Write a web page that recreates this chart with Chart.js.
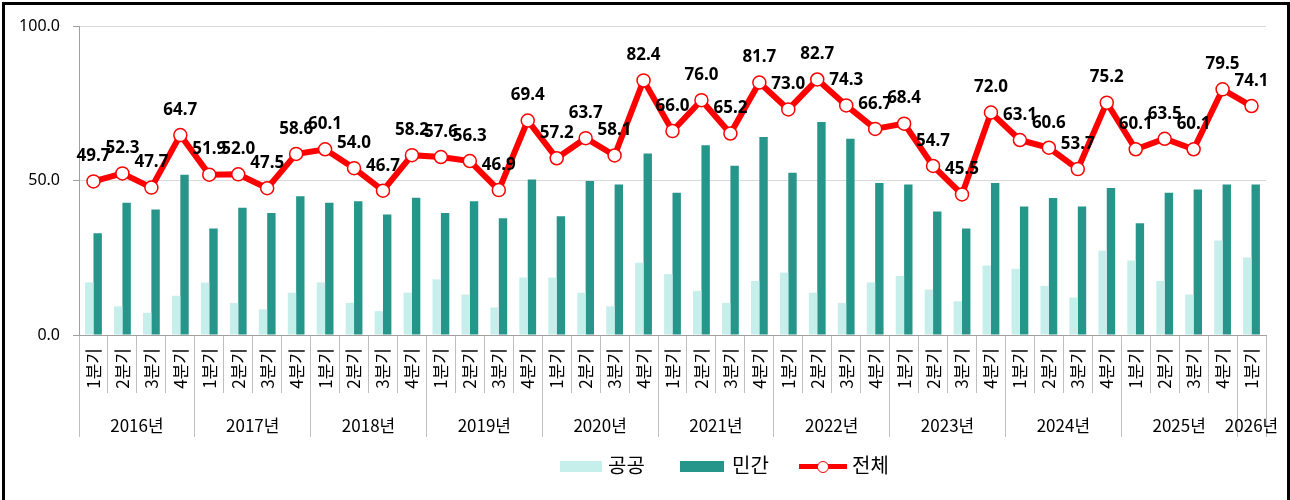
<!DOCTYPE html>
<html><head><meta charset="utf-8">
<script src="https://cdn.jsdelivr.net/npm/chart.js@4.4.1/dist/chart.umd.min.js"></script>
<style>
html,body{margin:0;padding:0;background:#fff;overflow:hidden;width:1290px;height:500px}
#wrap{position:relative;width:1290px;height:500px;overflow:hidden}
#c{position:absolute;left:0;top:0}
#frame{position:absolute;left:2px;top:2px;width:1282px;height:530px;border:3px solid #000;pointer-events:none}
.lgtxt{position:absolute;font-family:"Noto Sans CJK KR","Noto Sans",sans-serif;font-size:20px;line-height:20px;color:#000;top:455px;white-space:nowrap}
.lgsw{position:absolute;box-sizing:border-box}
</style></head><body>
<div id="wrap">
<canvas id="c" width="1290" height="500"></canvas>
<div id="legend"></div>
<div id="frame"></div>
</div>
<script>
// ---------- data ----------
const quarterLabels = [
 '1분기','2분기','3분기','4분기', '1분기','2분기','3분기','4분기',
 '1분기','2분기','3분기','4분기', '1분기','2분기','3분기','4분기',
 '1분기','2분기','3분기','4분기', '1분기','2분기','3분기','4분기',
 '1분기','2분기','3분기','4분기', '1분기','2분기','3분기','4분기',
 '1분기','2분기','3분기','4분기', '1분기','2분기','3분기','4분기',
 '1분기'
];
const yearLabels = ['2016년','2017년','2018년','2019년','2020년','2021년','2022년','2023년','2024년','2025년','2026년'];
const yearSpans = [4,4,4,4,4,4,4,4,4,4,1];
const seriesNames = ['공공','민간','전체'];
const publicVals = [
 17.0, 9.3, 7.2, 12.7,
 17.0, 10.4, 8.3, 13.7,
 17.0, 10.4, 7.7, 13.7,
 18.0, 13.1, 8.9, 18.6,
 18.6, 13.7, 9.3, 23.4,
 19.7, 14.3, 10.4, 17.5,
 20.2, 13.7, 10.4, 17.0,
 19.1, 14.7, 10.9, 22.5,
 21.4, 15.9, 12.1, 27.3,
 24.1, 17.5, 13.1, 30.6,
 25.1
];
const privateVals = [
 32.9, 42.8, 40.6, 51.9,
 34.5, 41.2, 39.5, 44.9,
 42.8, 43.3, 39.0, 44.4,
 39.5, 43.3, 37.8, 50.3,
 38.4, 49.8, 48.7, 58.7,
 46.0, 61.4, 54.8, 64.1,
 52.5, 68.9, 63.5, 49.2,
 48.7, 40.0, 34.5, 49.2,
 41.6, 44.3, 41.6, 47.6,
 36.2, 46.0, 47.1, 48.7,
 48.7
];
const totalVals = [
 49.7, 52.3, 47.7, 64.7,
 51.9, 52.0, 47.5, 58.6,
 60.1, 54.0, 46.7, 58.2,
 57.6, 56.3, 46.9, 69.4,
 57.2, 63.7, 58.1, 82.4,
 66.0, 76.0, 65.2, 81.7,
 73.0, 82.7, 74.3, 66.7,
 68.4, 54.7, 45.5, 72.0,
 63.1, 60.6, 53.7, 75.2,
 60.1, 63.5, 60.1, 79.5,
 74.1
];

// ---------- colours ----------
const cPublic = '#C6EFEB';
const cPrivate = '#26968A';
const cTotal = '#FF0000';

// year group ticks (boundaries + centres) for the second x axis
const yearBounds = [-0.5];
const yearCenters = [];
(function(){
  let s = 0;
  yearSpans.forEach(n => { yearCenters.push(s + (n - 1) / 2); s += n; yearBounds.push(s - 0.5); });
})();
const yearTickValues = yearBounds.concat(yearCenters).sort((a, b) => a - b);

Chart.defaults.font.family = '"Noto Sans CJK KR", "Noto Sans", sans-serif';
Chart.defaults.color = '#000';

const totalLabels = {
  id: 'totalLabels',
  afterDatasetsDraw(chart) {
    const meta = chart.getDatasetMeta(0);
    const ctx = chart.ctx;
    ctx.save();
    ctx.font = 'bold 17px "Noto Sans", sans-serif';
    ctx.fillStyle = '#000';
    ctx.textAlign = 'center';
    ctx.textBaseline = 'middle';
    meta.data.forEach((pt, i) => {
      ctx.fillText(totalVals[i].toFixed(1), pt.x, pt.y - 25);
    });
    ctx.restore();
  }
};

const chart = new Chart(document.getElementById('c'), {
  data: {
    labels: quarterLabels,
    datasets: [
      { type: 'line', label: seriesNames[2], data: totalVals, borderColor: cTotal, borderWidth: 6,
        pointRadius: 6.5, pointBackgroundColor: '#FFFFFF', pointBorderColor: cTotal, pointBorderWidth: 1.5,
        tension: 0, order: 0, xAxisID: 'x', yAxisID: 'y' },
      { type: 'bar', label: seriesNames[0], data: publicVals, backgroundColor: cPublic,
        categoryPercentage: 0.58, barPercentage: 1.0, order: 1, xAxisID: 'x', yAxisID: 'y' },
      { type: 'bar', label: seriesNames[1], data: privateVals, backgroundColor: cPrivate,
        categoryPercentage: 0.58, barPercentage: 1.0, order: 1, xAxisID: 'x', yAxisID: 'y' }
    ]
  },
  options: {
    responsive: false,
    animation: false,
    devicePixelRatio: 1,
    layout: { padding: { top: 26, right: 24, bottom: 63, left: 0 } },
    plugins: { legend: { display: false }, tooltip: { enabled: false } },
    scales: {
      y: {
        min: 0, max: 100,
        ticks: { stepSize: 50, callback: v => Number(v).toFixed(1), font: { size: 16, family: '"Noto Sans", sans-serif' }, color: '#000', padding: 13 },
        grid: { color: '#D9D9D9', tickLength: 6, tickColor: '#A0A0A0' },
        border: { color: '#A0A0A0' },
        afterFit: s => { s.width = 79; }
      },
      x: {
        type: 'category',
        position: 'bottom',
        offset: true,
        grid: { offset: true, drawOnChartArea: false, tickLength: 58, color: '#BFBFBF' },
        border: { color: '#A0A0A0' },
        ticks: { autoSkip: false, minRotation: 90, maxRotation: 90, padding: -45, font: { size: 17 }, color: '#000' },
        afterFit: s => { s.height = 58; }
      },
      x2: {
        type: 'linear',
        position: 'bottom',
        min: -0.5, max: 40.5,
        offset: false,
        grid: {
          drawOnChartArea: false, tickLength: 44,
          color: c => (c.tick && yearBounds.includes(c.tick.value)) ? '#BFBFBF' : 'rgba(0,0,0,0)'
        },
        border: { display: false },
        ticks: {
          autoSkip: false, minRotation: 0, maxRotation: 0, padding: -22, font: { size: 17 }, color: '#000',
          callback: v => { const i = yearCenters.indexOf(v); return i >= 0 ? yearLabels[i] : ''; }
        },
        afterBuildTicks: s => { s.ticks = yearTickValues.map(v => ({ value: v })); },
        afterFit: s => { s.height = 44; }
      }
    }
  },
  plugins: [totalLabels]
});

// ---------- legend (HTML) ----------
(function(){
  const lg = document.getElementById('legend');
  const items = [
    { name: seriesNames[0], kind: 'bar', color: cPublic, sx: 560, sw: 42, tx: 608 },
    { name: seriesNames[1], kind: 'bar', color: cPrivate, sx: 680, sw: 44, tx: 732 },
    { name: seriesNames[2], kind: 'line', color: cTotal, sx: 799, sw: 48, tx: 852 }
  ];
  items.forEach(it => {
    if (it.kind === 'bar') {
      const d = document.createElement('div');
      d.className = 'lgsw';
      d.style.cssText = `left:${it.sx}px;top:461px;width:${it.sw}px;height:11px;background:${it.color}`;
      lg.appendChild(d);
    } else {
      const l = document.createElement('div');
      l.className = 'lgsw';
      l.style.cssText = `left:${it.sx}px;top:464px;width:${it.sw}px;height:5px;background:${it.color}`;
      lg.appendChild(l);
      const c = document.createElement('div');
      c.className = 'lgsw';
      c.style.cssText = `left:${it.sx + it.sw/2 - 6}px;top:460.5px;width:12px;height:12px;border:1.5px solid ${it.color};border-radius:50%;background:#fff`;
      lg.appendChild(c);
    }
    const t = document.createElement('div');
    t.className = 'lgtxt';
    t.style.left = it.tx + 'px';
    t.textContent = it.name;
    lg.appendChild(t);
  });
})();
</script>
</body></html>
